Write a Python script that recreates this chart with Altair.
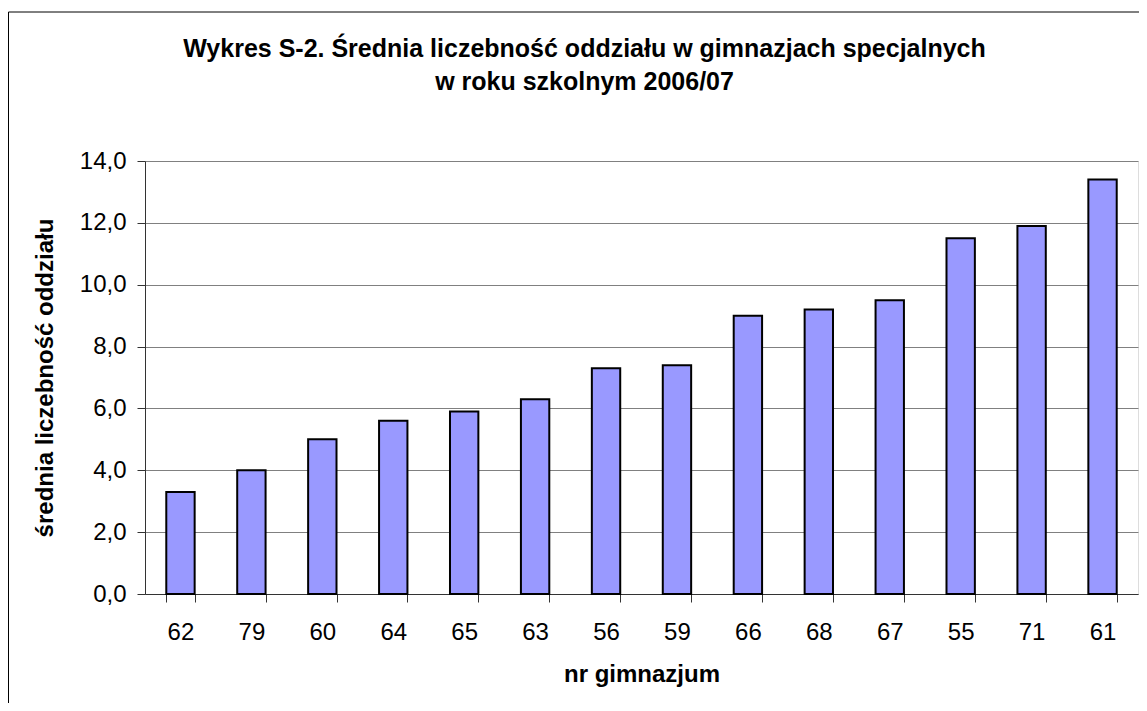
import altair as alt
import pandas as pd

schools = ["62", "79", "60", "64", "65", "63", "56", "59", "66", "68", "67", "55", "71", "61"]
values = [3.3, 4.0, 5.0, 5.6, 5.9, 6.3, 7.3, 7.4, 9.0, 9.2, 9.5, 11.5, 11.9, 13.4]
y_ticks = [0, 2, 4, 6, 8, 10, 12, 14]

df = pd.DataFrame({"nr": schools, "val": values})
FONT = "Liberation Sans"

bars = alt.Chart(df).mark_bar(
    fill="#9999FF", stroke="#000000", strokeWidth=2
).encode(
    x=alt.X("nr:N", sort=schools,
            scale=alt.Scale(paddingInner=0.6, paddingOuter=0.3),
            axis=alt.Axis(title="nr gimnazjum", labelAngle=0, tickBand="extent",
                          tickSize=8, tickColor="#333333", domainColor="#333333",
                          labelFontSize=24, labelFont=FONT, labelColor="#000000",
                          labelPadding=18, titleFontSize=24, titleFont=FONT,
                          titleFontWeight="bold", titlePadding=18, titleColor="#000000")),
    y=alt.Y("val:Q", scale=alt.Scale(domain=[0, 14], nice=False),
            axis=alt.Axis(title="średnia liczebność oddziału", values=y_ticks,
                          labelExpr="replace(format(datum.value, '.1f'), '.', ',')",
                          tickSize=8, tickColor="#333333", domainColor="#333333",
                          gridColor="#808080", gridWidth=1,
                          labelFontSize=24, labelFont=FONT, labelColor="#000000",
                          labelPadding=11, titleFontSize=24, titleFont=FONT,
                          titleFontWeight="bold", titlePadding=22, titleColor="#000000")),
)

frame = alt.Chart(pd.DataFrame({"a": [0]})).mark_rect(
    fill=None, stroke="#000000", strokeWidth=1
).encode(
    x=alt.value(-136.5), x2=alt.value(1200), y=alt.value(-149), y2=alt.value(700)
)

chart = alt.layer(frame, bars).properties(
    width=993, height=433,
    padding={"left": 137, "top": 153, "right": 1, "bottom": 109},
    autosize=alt.AutoSizeParams(type="none"),
    title=alt.TitleParams(
        text=["Wykres S-2. Średnia liczebność oddziału w gimnazjach specjalnych",
              "w roku szkolnym 2006/07"],
        fontSize=25, font=FONT, fontWeight="bold", color="#000000",
        anchor="middle", frame="group", dx=-57, offset=-83, lineHeight=33),
).configure_view(stroke="#808080", strokeWidth=1).configure(background="#ffffff")

chart.save("out.html", embed_options={"renderer": "svg", "actions": False})
